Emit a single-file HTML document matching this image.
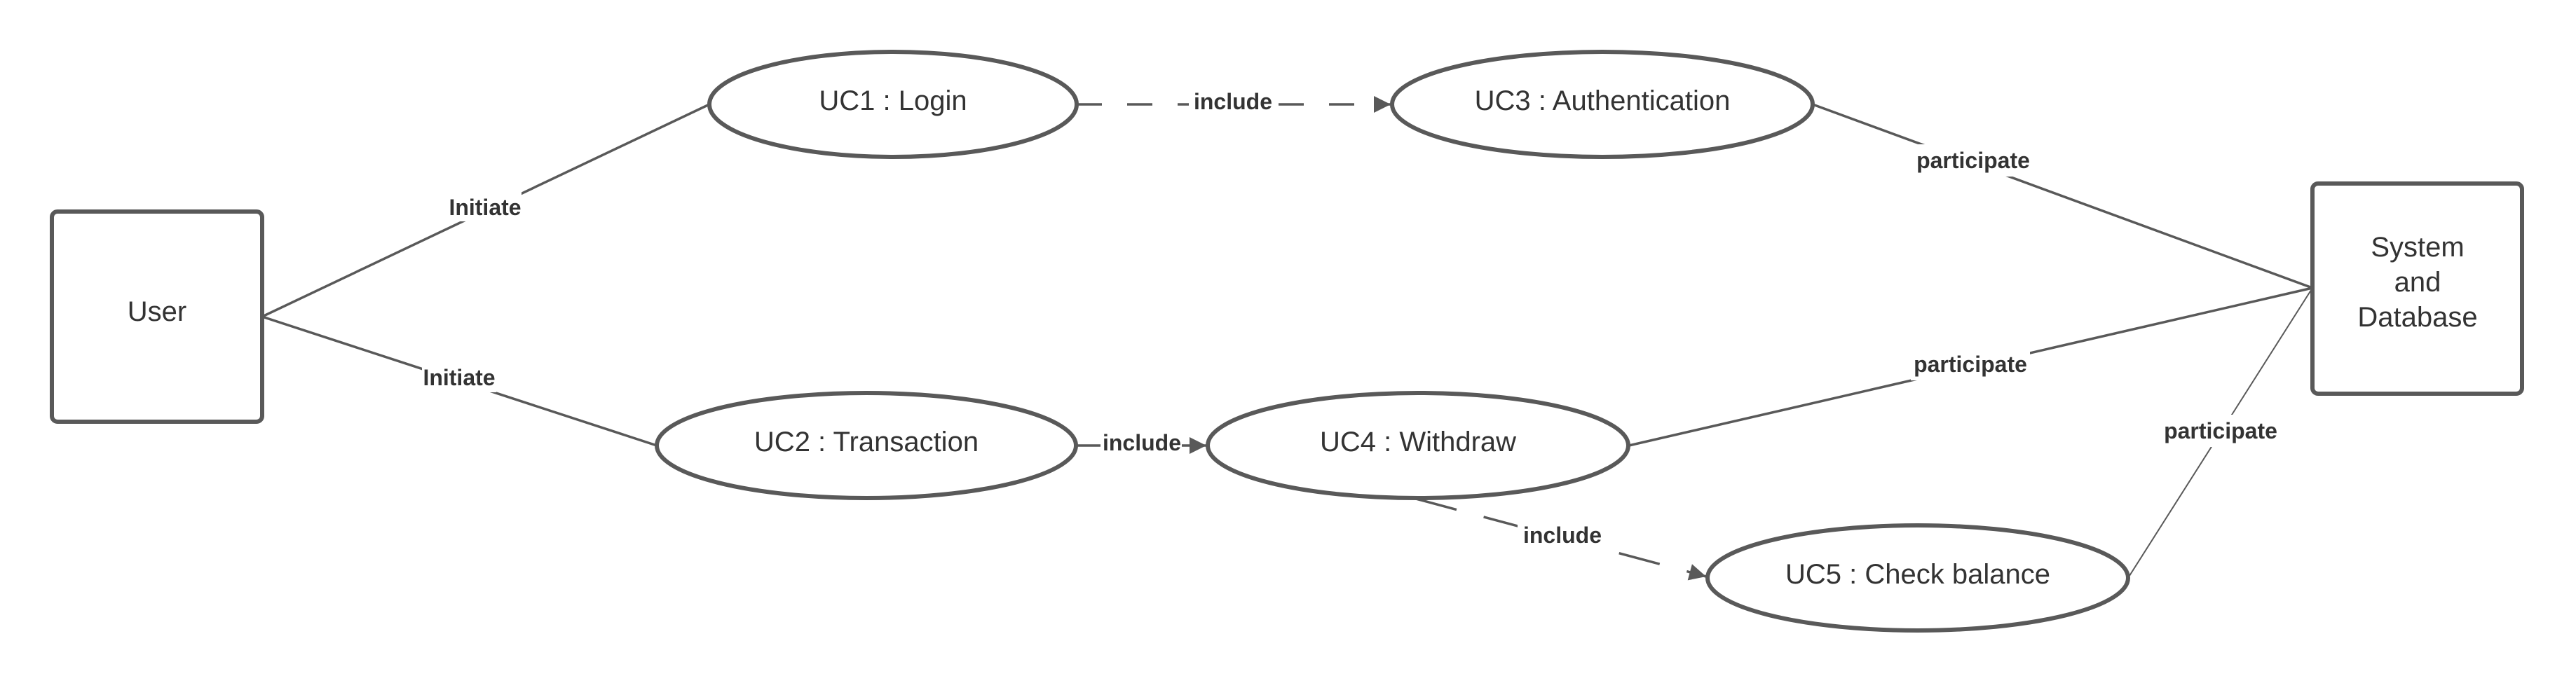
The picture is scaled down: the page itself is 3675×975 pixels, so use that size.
<!DOCTYPE html>
<html><head><style>body{margin:0;background:#fff}svg{display:block}</style></head><body>
<svg width="3675" height="975" viewBox="0 0 3675 975" xmlns="http://www.w3.org/2000/svg" font-family="Liberation Sans, Arial, sans-serif">
<defs>
<marker id="b" viewBox="0 0 10 10" refX="10" refY="5" markerWidth="32" markerHeight="24" markerUnits="userSpaceOnUse" orient="auto"><path d="M0,0L10,5L0,10z" fill="#595959"/></marker></defs>
<g stroke="#595959" fill="none" stroke-width="3.5">
<line x1="374" y1="452" x2="1012" y2="149"/>
<line x1="374" y1="452" x2="937" y2="636"/>
<line x1="1536" y1="149" x2="1984" y2="149" stroke-dasharray="36,36" marker-end="url(#b)"/>
<line x1="1536" y1="636" x2="1721" y2="636" marker-end="url(#b)"/>
<line x1="2020" y1="712" x2="2434" y2="823" stroke-dasharray="60,40" marker-end="url(#b)"/>
<line x1="2586" y1="149" x2="3299" y2="411"/>
<line x1="2324" y1="636" x2="3299" y2="411"/>
<line x1="3036" y1="825" x2="3299" y2="411" stroke-width="2"/>
</g>
<g stroke="#595959" fill="#fff" stroke-width="6">
<rect x="74" y="302" width="300" height="300" rx="8"/>
<rect x="3299" y="262" width="299" height="300" rx="8"/>
<ellipse cx="1274" cy="149" rx="262" ry="75"/>
<ellipse cx="1236" cy="636" rx="299" ry="75"/>
<ellipse cx="2286" cy="149" rx="300" ry="75"/>
<ellipse cx="2023" cy="636" rx="300" ry="75"/>
<ellipse cx="2736" cy="825" rx="300" ry="75"/>
</g>
<g fill="#333" font-size="40" text-anchor="middle">
<text x="224" y="458">User</text>
<text x="1274" y="157">UC1 : Login</text>
<text x="1236" y="644">UC2 : Transaction</text>
<text x="2286" y="157">UC3 : Authentication</text>
<text x="2023" y="644">UC4 : Withdraw</text>
<text x="2736" y="833">UC5 : Check balance</text>
<text x="3449" y="366">System</text>
<text x="3449" y="416">and</text>
<text x="3449" y="466">Database</text>
</g>
<g fill="#333" font-size="32" font-weight="bold" text-anchor="middle">
<rect x="640" y="272" width="104" height="44" fill="#fff"/>
<text x="692" y="307">Initiate</text>
<rect x="602" y="516" width="106" height="44" fill="#fff"/>
<text x="655" y="550">Initiate</text>
<rect x="1696" y="124" width="126" height="44" fill="#fff"/>
<text x="1759" y="156">include</text>
<rect x="1570" y="614" width="116" height="44" fill="#fff"/>
<text x="1629" y="643">include</text>
<rect x="2165" y="742" width="130" height="44" fill="#fff"/>
<text x="2229" y="775">include</text>
<rect x="2730" y="206" width="170" height="46" fill="#fff"/>
<text x="2815" y="240">participate</text>
<rect x="2726" y="497" width="170" height="46" fill="#fff"/>
<text x="2811" y="531">participate</text>
<rect x="3083" y="592" width="170" height="46" fill="#fff"/>
<text x="3168" y="626">participate</text>
</g>
</svg>
</body></html>
